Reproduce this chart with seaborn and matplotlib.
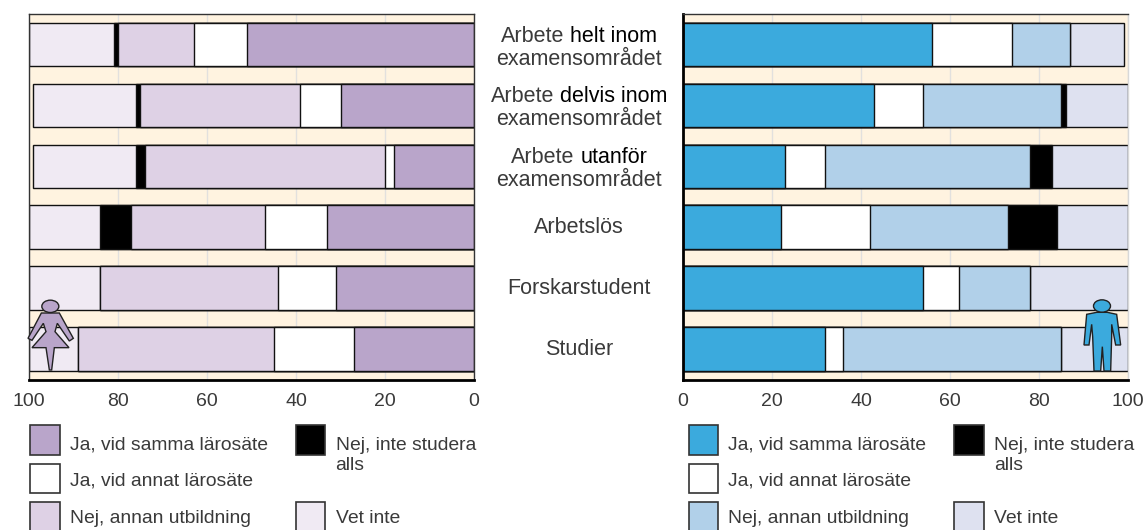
import matplotlib
matplotlib.use("Agg")
import matplotlib.pyplot as plt
import seaborn as sns
import pandas as pd
import numpy as np
from matplotlib.patches import Polygon, Ellipse, Rectangle
from matplotlib.transforms import Affine2D

categories = ["Arbete helt inom", "Arbete delvis inom", "Arbete utanför", "Arbetslös", "Forskarstudent", "Studier"]
series_names = ["Ja, vid samma lärosäte", "Ja, vid annat lärosäte", "Nej, annan utbildning", "Nej, inte studera", "Vet inte"]

women_samma = [51, 30, 18, 33, 31, 27]
women_annat = [12, 9, 2, 14, 13, 18]
women_annan = [17, 36, 54, 30, 40, 44]
women_inte = [1, 1, 2, 7, 0, 0]
women_vet = [19, 23, 23, 16, 16, 11]

men_samma = [56, 43, 23, 22, 54, 32]
men_annat = [18, 11, 9, 20, 8, 4]
men_annan = [13, 31, 46, 31, 16, 49]
men_inte = [0, 1, 5, 11, 0, 0]
men_vet = [12, 14, 17, 16, 22, 15]

women_colors = ["#B9A5CA", "#FFFFFF", "#DED1E5", "#000000", "#F0EAF3"]
men_colors = ["#3BAADD", "#FFFFFF", "#B1D0E9", "#000000", "#DEE1F0"]
tick_values = [0, 20, 40, 60, 80, 100]

sns.set_theme(style="white")
FONT = "Liberation Sans"
plt.rcParams["font.family"] = [FONT, "DejaVu Sans"]
W, H = 1146, 530
fig = plt.figure(figsize=(W / 100, H / 100), dpi=100)
px = Affine2D().scale(1, -1).translate(0, H)  # reference pixel coordinates
TXT = "#3a3a3a"


def axes_at(x0, x1, y0, y1):
    return fig.add_axes([x0 / W, 1 - y1 / H, (x1 - x0) / W, (y1 - y0) / H])


def stacked(ax, columns, colors):
    df = pd.DataFrame(dict(zip(series_names, columns)), index=categories)
    cum = df.cumsum(axis=1)
    for name, col in reversed(list(zip(series_names, colors))):
        d = pd.DataFrame({"cat": categories, "val": cum[name].values})
        sns.barplot(data=d, y="cat", x="val", order=categories, orient="h", color=col,
                    saturation=1, width=0.715, edgecolor="#111111", linewidth=1.0, ax=ax, zorder=3)
    ax.set_ylim(5.5, -0.5)
    ax.set_xticks(tick_values)
    ax.set_xlabel("")
    ax.set_ylabel("")
    ax.set_yticks([])
    ax.set_facecolor("#FFF3E0")
    ax.grid(True, axis="x", color="#E2E0DE", linewidth=1.0, zorder=0)
    ax.set_axisbelow(True)
    ax.tick_params(axis="x", length=0, pad=10, labelsize=14, labelcolor=TXT)
    for s in ax.spines.values():
        s.set_visible(True)
        s.set_color("#333333")
        s.set_linewidth(1.0)
        s.set_zorder(6)
    ax.spines["bottom"].set_color("#000000")
    ax.spines["bottom"].set_linewidth(2.0)


axL = axes_at(29, 474, 14, 379.5)
stacked(axL, [women_samma, women_annat, women_annan, women_inte, women_vet], women_colors)
axL.set_xlim(100, 0)

axR = axes_at(683, 1128, 14, 379.5)
stacked(axR, [men_samma, men_annat, men_annan, men_inte, men_vet], men_colors)
axR.set_xlim(0, 100)
axR.spines["left"].set_color("#000000")
axR.spines["left"].set_linewidth(2.0)
axR.spines["right"].set_color("#D8D8D8")

# Centre labels: plain part, emphasised part, second line, baselines
labels = [("Arbete", "helt inom", "examensområdet", 42.5, 65),
          ("Arbete", "delvis inom", "examensområdet", 102, 125),
          ("Arbete", "utanför", "examensområdet", 163, 186),
          ("Arbetslös", "", "", 233, None),
          ("Forskarstudent", "", "", 294, None),
          ("Studier", "", "", 355, None)]
CX = 579
FS = 15.5
renderer = fig.canvas.get_renderer()


def text_width(s):
    t = fig.text(0, 0, s, fontsize=FS)
    w = t.get_window_extent(renderer).width
    t.remove()
    return w


for plain, strong, second, y1, y2 in labels:
    if strong:
        wa = text_width(plain + " .") - text_width(".")
        wb = text_width(strong)
        x0 = CX - (wa + wb) / 2
        fig.text(x0, y1, plain, fontsize=FS, color=TXT, va="baseline", ha="left", transform=px)
        fig.text(x0 + wa, y1, strong, fontsize=FS, color="#000000", va="baseline", ha="left", transform=px)
    else:
        fig.text(CX, y1, plain, fontsize=FS, color=TXT, va="baseline", ha="center", transform=px)
    if second:
        fig.text(CX, y2, second, fontsize=FS, color=TXT, va="baseline", ha="center", transform=px)

# Legend blocks
LEG_FS = 13.9


def legend_block(x_first, x_second, colors):
    entries = [(0, x_first, 425, 450), (1, x_first, 463.5, 486), (2, x_first, 502, 522.7),
               (3, x_second, 425, 450), (4, x_second, 502, 522.7)]
    for i, x, top, base in entries:
        fig.add_artist(Rectangle((x, top), 29.5, 29.5, facecolor=colors[i], edgecolor="#333333",
                                 linewidth=1.2, transform=px))
        fig.text(x + 40, base, series_names[i], fontsize=LEG_FS, color=TXT, va="baseline", ha="left", transform=px)
    fig.text(x_second + 40, 469.5, "alls", fontsize=LEG_FS, color=TXT, va="baseline", ha="left", transform=px)


legend_block(30, 295.5, women_colors)
legend_block(688.5, 954, men_colors)


def icon(poly, head, color, ox, oy):
    pts = np.array(poly) / 3 + [ox, oy]
    fig.add_artist(Polygon(pts, closed=True, facecolor=color, edgecolor="#222222", linewidth=1.0, transform=px, zorder=10))
    fig.add_artist(Ellipse((head[0] / 3 + ox, head[1] / 3 + oy), head[2] / 3, head[3] / 3, facecolor=color,
                           edgecolor="#222222", linewidth=1.0, transform=px, zorder=10))


woman = [(64, 54), (118, 54), (160, 130), (148, 138), (112, 85), (105, 110), (147, 158), (103, 158),
         (95, 225), (88, 225), (78, 158), (36, 158), (78, 110), (70, 85), (36, 136), (24, 130)]
man = [(50, 58), (80, 52), (112, 52), (140, 58), (152, 150), (137, 150), (125, 88), (125, 125), (122, 228),
       (102, 228), (97, 155), (92, 228), (72, 228), (68, 125), (65, 88), (57, 150), (42, 150)]
icon(woman, (91, 34, 51, 37), women_colors[0], 20, 295)
icon(man, (96, 33, 51, 37), men_colors[0], 1070, 295)

fig.savefig("out.png", dpi=100)
